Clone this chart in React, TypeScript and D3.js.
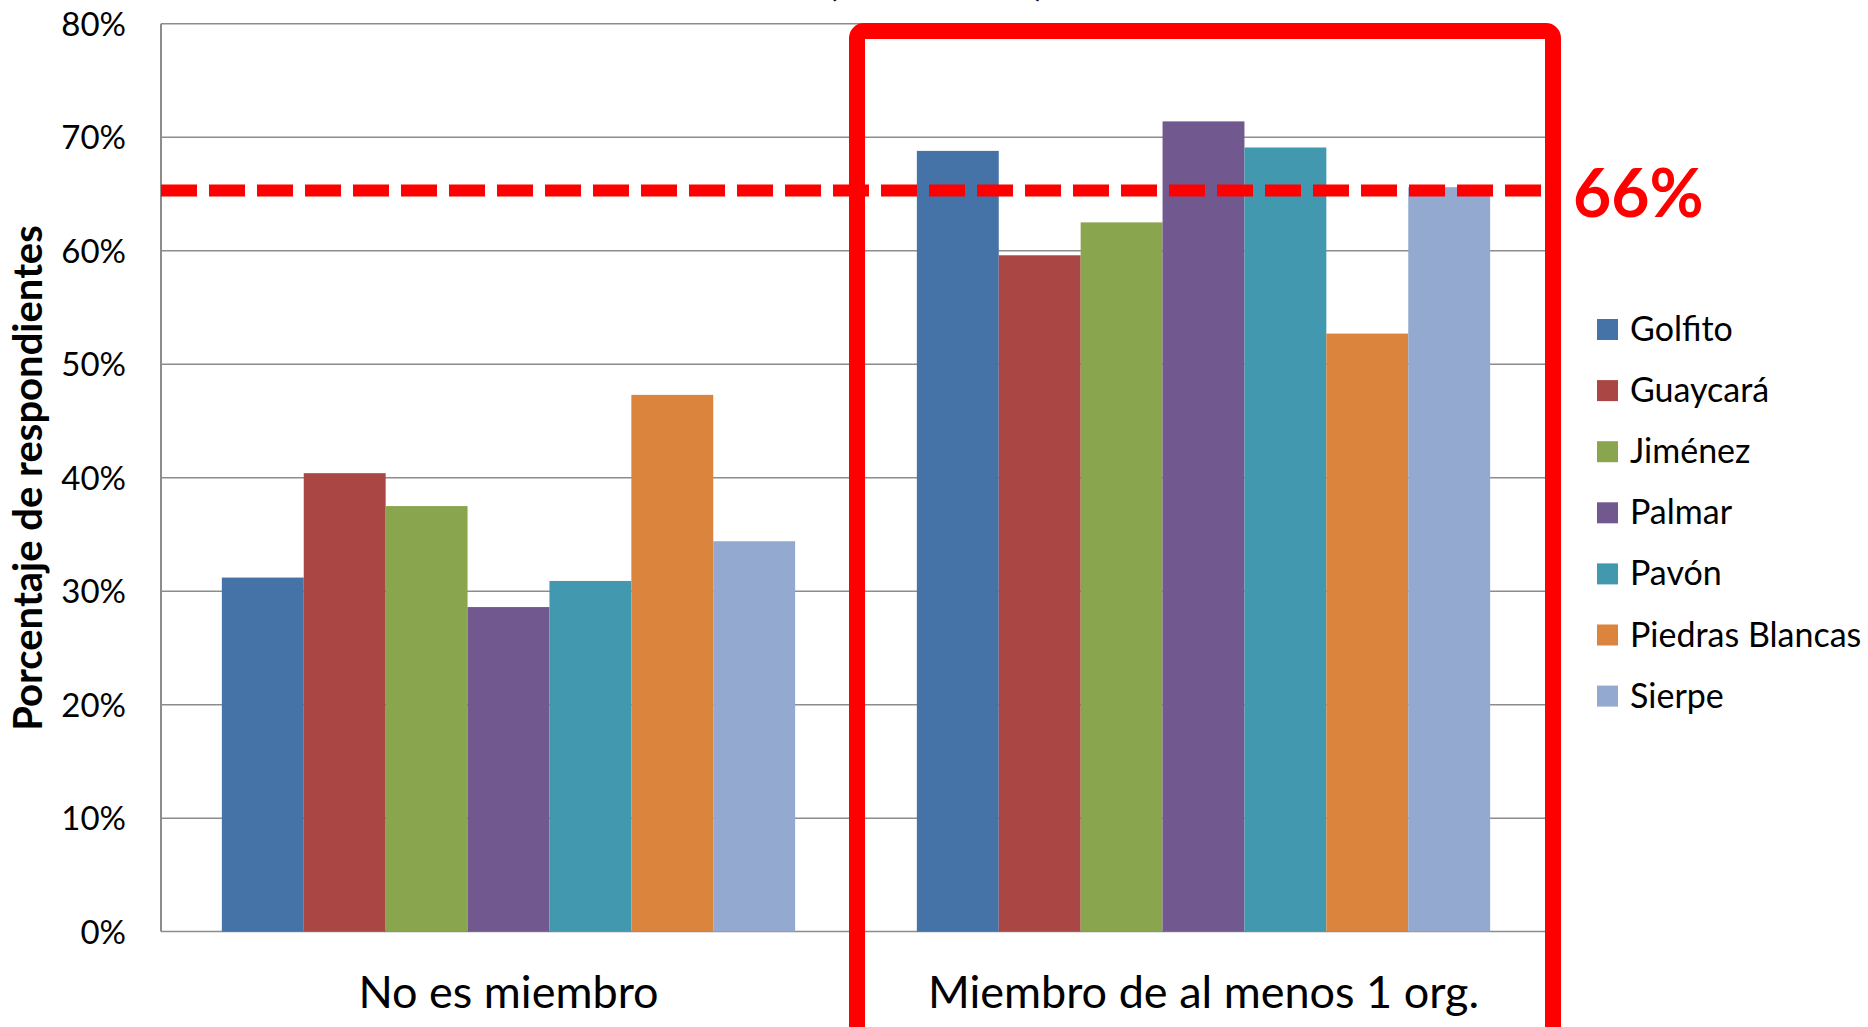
import React, { useEffect, useRef } from "react";
import * as d3 from "d3";

const categories = ["No es miembro", "Miembro de al menos 1 org."];
const cantones = ["Golfito", "Guaycará", "Jiménez", "Palmar", "Pavón", "Piedras Blancas", "Sierpe"];
const colors = ["#4572A7", "#AA4643", "#89A54E", "#71588F", "#4198AF", "#DB843D", "#93A9CF"];
const noMiembro = [0.312, 0.404, 0.375, 0.286, 0.309, 0.473, 0.344];
const miembro = [0.688, 0.596, 0.625, 0.714, 0.691, 0.527, 0.656];
const yTicks = [0, 0.1, 0.2, 0.3, 0.4, 0.5, 0.6, 0.7, 0.8];
const referenceValue = 0.653;
const referenceLabel = "66%";

const W = 1868;
const H = 1027;
const FONT = "Lato, 'Noto Sans', sans-serif";

const drawChart = (svgEl: SVGSVGElement) => {
  const svg = d3.select(svgEl);
  svg.selectAll("*").remove();

  const left = 161;
  const right = 1545;
  const top = 23.8;
  const bottom = 931.6;

  // bands run a touch past the visible gridline end, as in the source chart
  const x0 = d3.scaleBand<string>().domain(categories).range([left, 1551]).padding(0);
  const x1 = d3
    .scaleBand<string>()
    .domain(cantones)
    .range([0, x0.bandwidth()])
    .paddingInner(0)
    .paddingOuter(0.743);
  const y = d3.scaleLinear().domain([0, 0.8]).range([bottom, top]);

  // gridlines
  svg
    .append("g")
    .selectAll("line")
    .data(yTicks)
    .enter()
    .append("line")
    .attr("x1", left)
    .attr("x2", right)
    .attr("y1", (d) => y(d))
    .attr("y2", (d) => y(d))
    .attr("stroke", "#8c8c8c")
    .attr("stroke-width", 1.5);

  // y axis line
  svg
    .append("line")
    .attr("x1", left)
    .attr("x2", left)
    .attr("y1", top)
    .attr("y2", bottom)
    .attr("stroke", "#8c8c8c")
    .attr("stroke-width", 2);

  // tick labels
  svg
    .append("g")
    .selectAll("text")
    .data(yTicks)
    .enter()
    .append("text")
    .attr("x", 126)
    .attr("y", (d) => y(d) + 12)
    .attr("text-anchor", "end")
    .attr("font-family", FONT)
    .attr("font-size", 33)
    .attr("fill", "#000")
    .text((d) => d3.format(".0%")(d));

  // bars
  const series = [noMiembro, miembro];
  const groups = svg
    .append("g")
    .selectAll("g")
    .data(categories)
    .enter()
    .append("g")
    .attr("transform", (c) => `translate(${x0(c)},0)`);

  groups
    .selectAll("rect")
    .data((c, i) => cantones.map((name, j) => ({ name, value: series[i][j], color: colors[j] })))
    .enter()
    .append("rect")
    .attr("x", (d) => x1(d.name) || 0)
    .attr("width", x1.bandwidth())
    .attr("y", (d) => y(d.value))
    .attr("height", (d) => bottom - y(d.value))
    .attr("fill", (d) => d.color);

  // category labels
  svg
    .append("g")
    .selectAll("text")
    .data(categories)
    .enter()
    .append("text")
    .attr("x", (c) => (x0(c) || 0) + x0.bandwidth() / 2)
    .attr("y", 1008)
    .attr("text-anchor", "middle")
    .attr("font-family", FONT)
    .attr("font-size", 45)
    .text((c) => c);

  // y title
  svg
    .append("text")
    .attr("transform", "translate(42,478) rotate(-90)")
    .attr("text-anchor", "middle")
    .attr("font-family", FONT)
    .attr("font-weight", "bold")
    .attr("font-size", 40)
    .text("Porcentaje de respondientes");

  // cut-off title (only the parentheses' tips remain visible)
  svg
    .append("text")
    .attr("x", 832)
    .attr("y", -5)
    .attr("font-family", FONT)
    .attr("font-size", 44)
    .attr("text-anchor", "middle")
    .text("(");
  svg
    .append("text")
    .attr("x", 1040)
    .attr("y", -5)
    .attr("font-family", FONT)
    .attr("font-size", 44)
    .attr("text-anchor", "middle")
    .text(")");

  // dashed reference line
  svg
    .append("line")
    .attr("x1", left)
    .attr("x2", 1541)
    .attr("y1", y(referenceValue))
    .attr("y2", y(referenceValue))
    .attr("stroke", "#ff0000")
    .attr("stroke-width", 12)
    .attr("stroke-dasharray", "36 12");

  svg
    .append("text")
    .attr("x", 1573)
    .attr("y", 217)
    .attr("font-family", FONT)
    .attr("font-weight", "bold")
    .attr("font-size", 66)
    .attr("fill", "#ff0000")
    .text(referenceLabel);

  // red highlight box
  svg
    .append("rect")
    .attr("x", 857)
    .attr("y", 31)
    .attr("width", 696)
    .attr("height", 1100)
    .attr("rx", 7)
    .attr("fill", "none")
    .attr("stroke", "#ff0000")
    .attr("stroke-width", 16);

  // legend
  const legend = svg
    .append("g")
    .selectAll("g")
    .data(cantones)
    .enter()
    .append("g")
    .attr("transform", (d, i) => `translate(1597,${319 + i * 61.1})`);
  legend
    .append("rect")
    .attr("width", 21)
    .attr("height", 21)
    .attr("fill", (d, i) => colors[i]);
  legend
    .append("text")
    .attr("x", 33)
    .attr("y", 22)
    .attr("font-family", FONT)
    .attr("font-size", 34)
    .text((d) => d);
};

const App = () => {
  const ref = useRef<SVGSVGElement>(null);
  useEffect(() => {
    if (ref.current) drawChart(ref.current);
  }, []);

  return (
    <svg
      ref={ref}
      width={W}
      height={H}
      style={{ position: "absolute", left: 0, top: 0, background: "#fff", display: "block" }}
    ></svg>
  );
};

export default App;
